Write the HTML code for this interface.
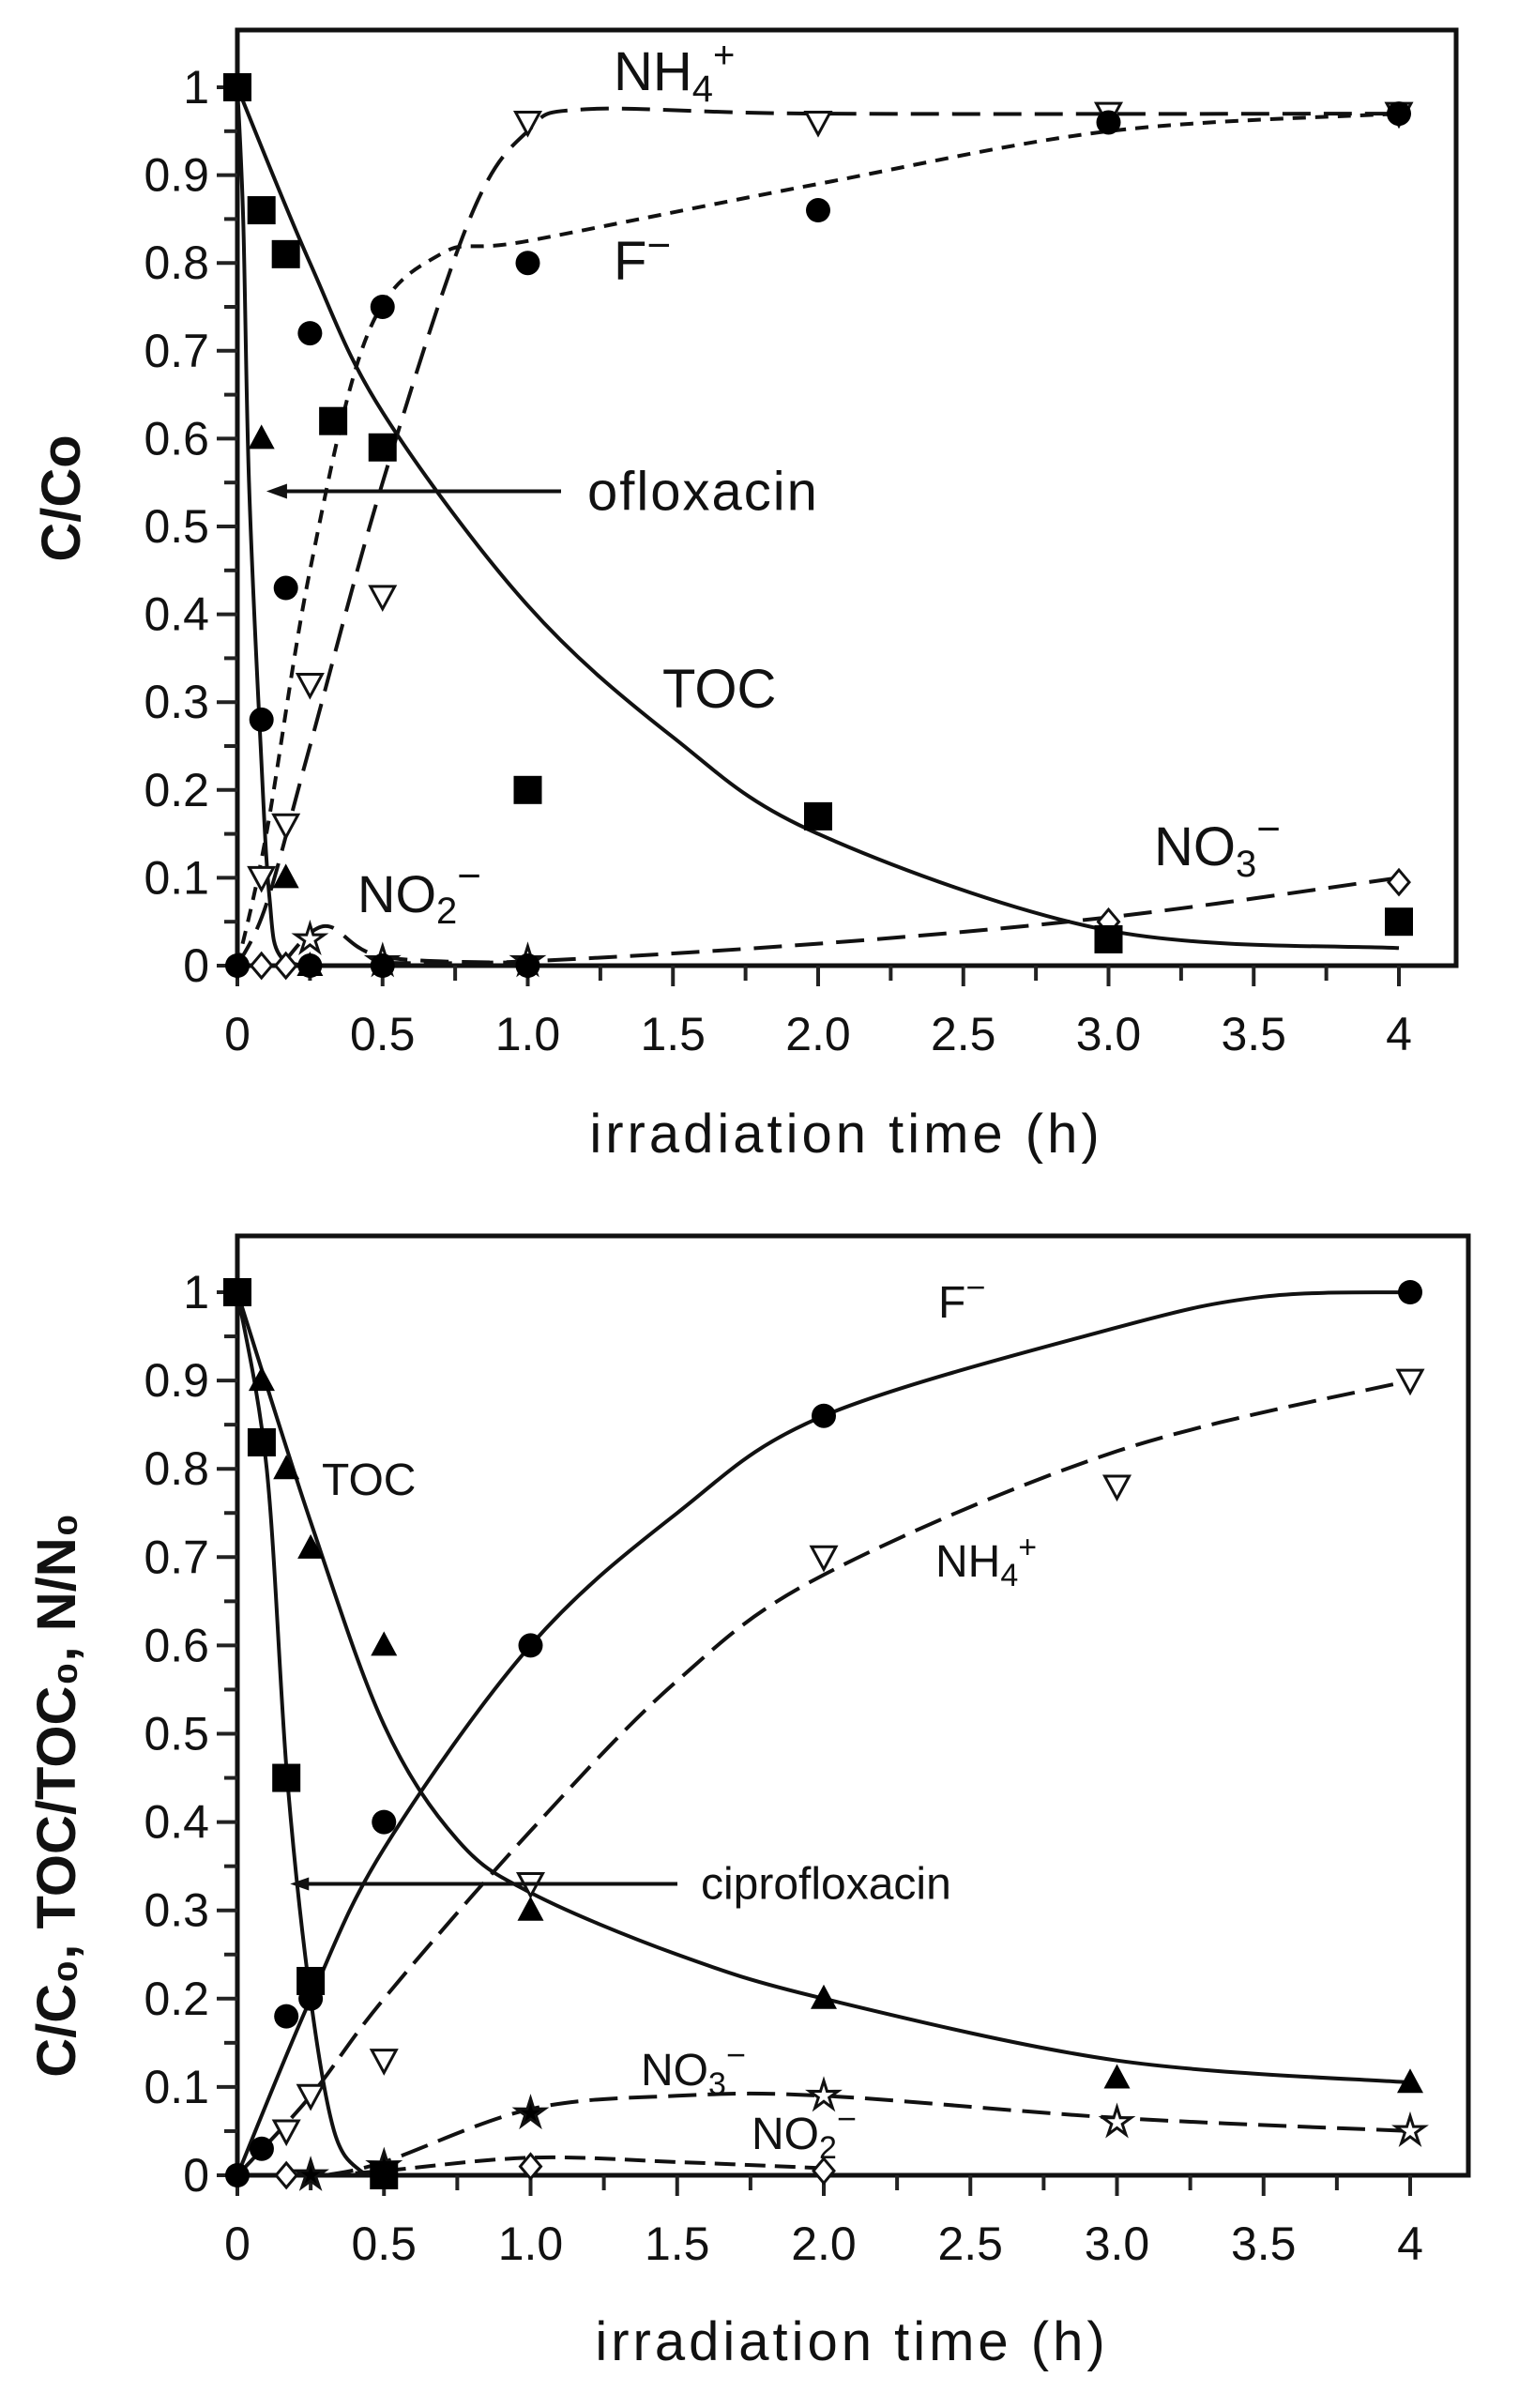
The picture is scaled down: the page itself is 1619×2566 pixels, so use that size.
<!DOCTYPE html>
<html><head><meta charset="utf-8"><style>
html,body{margin:0;padding:0;background:#fff;}
svg{display:block;font-family:"Liberation Sans",sans-serif;}
</style></head><body>
<svg id="s" width="1619" height="2566" viewBox="0 0 1619 2566" xmlns="http://www.w3.org/2000/svg"></svg>
<script>
const S=document.getElementById('s');let out='';
function cr(pts){let d='M'+pts[0][0].toFixed(1)+','+pts[0][1].toFixed(1);
for(let i=0;i<pts.length-1;i++){const p0=pts[i-1]||pts[i],p1=pts[i],p2=pts[i+1],p3=pts[i+2]||p2;
const c1=[p1[0]+(p2[0]-p0[0])/6,p1[1]+(p2[1]-p0[1])/6],c2=[p2[0]-(p3[0]-p1[0])/6,p2[1]-(p3[1]-p1[1])/6];
d+=' C'+c1.map(v=>v.toFixed(1))+' '+c2.map(v=>v.toFixed(1))+' '+p2.map(v=>v.toFixed(1));}return d;}
function chart(c){
 const X=x=>c.x0+x*c.u, Y=v=>c.y0-v*c.vu;
 out+=`<rect x="${c.L}" y="${c.T}" width="${c.R-c.L}" height="${c.y0-c.T}" fill="none" stroke="#111" stroke-width="5"/>`;
 for(let i=0;i<=16;i++){const x=X(i*0.25);out+=`<line x1="${x}" y1="${c.y0}" x2="${x}" y2="${c.y0+(i%2?16:22)}" stroke="#222" stroke-width="4"/>`;}
 const xl=['0','0.5','1.0','1.5','2.0','2.5','3.0','3.5','4'];
 xl.forEach((t,i)=>out+=`<text x="${X(i*0.5)}" y="${c.y0+90}" font-size="50" text-anchor="middle" fill="#111">${t}</text>`);
 for(let i=0;i<=20;i++){const y=Y(i*0.05);out+=`<line x1="${c.L}" y1="${y}" x2="${c.L-(i%2?14:22)}" y2="${y}" stroke="#222" stroke-width="4"/>`;}
 for(let i=0;i<=10;i++){const t=i==0?'0':i==10?'1':'0.'+i;out+=`<text x="${c.L-30}" y="${Y(i/10)+17}" font-size="50" text-anchor="end" fill="#111">${t}</text>`;}
 out+=`<text x="${X(2)+30}" y="${c.xt}" font-size="58" text-anchor="middle" letter-spacing="4" fill="#111">irradiation  time  (h)</text>`;
 out+=`<text transform="translate(${c.yl[0]},${c.yl[1]}) rotate(-90)" font-size="58" font-weight="bold" text-anchor="middle" fill="#111">${c.ylab}</text>`;
 c.curves.forEach(cv=>{out+=`<path d="${cr(cv.p.map(p=>[X(p[0]),Y(p[1])]))}" fill="none" stroke="#111" stroke-width="4" ${cv.d?`stroke-dasharray="${cv.d}"`:''}/>`;});
 c.series.forEach(s=>s.p.forEach(p=>mark(s.m,X(p[0]),Y(p[1]))));
 out+=c.extra(X,Y);
}
function mark(m,x,y){
 if(m=='sq')out+=`<rect x="${x-15}" y="${y-15}" width="30" height="30" fill="#000"/>`;
 if(m=='ci')out+=`<circle cx="${x}" cy="${y}" r="13" fill="#000"/>`;
 if(m=='tu')out+=`<path d="M${x},${y-15} L${x+14},${y+11} L${x-14},${y+11}Z" fill="#000"/>`;
 if(m=='td')out+=`<path d="M${x-13},${y-11} L${x+13},${y-11} L${x},${y+13}Z" fill="#fff" stroke="#111" stroke-width="3"/>`;
 if(m=='di')out+=`<path d="M${x},${y-13} L${x+11},${y} L${x},${y+13} L${x-11},${y}Z" fill="#fff" stroke="#111" stroke-width="3"/>`;
 if(m=='st'||m=='sf'){let d='';for(let i=0;i<10;i++){const r=i%2?6:16,a=-Math.PI/2+i*Math.PI/5;d+=(i?'L':'M')+(x+r*Math.cos(a)).toFixed(1)+','+(y+r*Math.sin(a)).toFixed(1);}
 out+=`<path d="${d}Z" fill="${m=='sf'?'#000':'#fff'}" stroke="#111" stroke-width="3"/>`;}
}
chart({L:253,R:1552,T:32,x0:253,u:309.5,y0:1029,vu:936,xt:1228,yl:[85,531],ylab:'C/Co',
 curves:[
  {p:[[0,1],[0.25,0.8],[0.5,0.63],[1,0.41],[1.5,0.26],[2,0.15],[3,0.04],[4,0.02]]},
  {p:[[0,1],[0.02,0.85],[0.04,0.55],[0.08,0.25],[0.11,0.08],[0.15,0.01],[0.3,0]]},
  {p:[[0,0],[0.1,0.15],[0.25,0.45],[0.45,0.72],[0.7,0.81],[1,0.825],[2,0.89],[3,0.95],[4,0.97]],d:'14 10'},
  {p:[[0,0],[0.1,0.07],[0.25,0.25],[0.5,0.55],[0.8,0.85],[1.0,0.95],[1.2,0.975],[2,0.97],[4,0.97]],d:'30 14'},
  {p:[[0.15,0],[0.3,0.045],[0.5,0.01],[1,0.003]],d:'30 14'},
  {p:[[0.5,0.003],[1,0.005],[2,0.025],[3,0.055],[4,0.1]],d:'30 14'}],
 series:[
  {m:'di',p:[[0,0],[0.083,0],[0.167,0],[1,0],[3,0.05],[4,0.095]]},
  {m:'st',p:[[0.25,0.03],[0.5,0.005],[1,0.005]]},
  {m:'td',p:[[0.083,0.1],[0.167,0.16],[0.25,0.32],[0.5,0.42],[1,0.96],[2,0.96],[3,0.97],[4,0.97]]},
  {m:'sq',p:[[0,1],[0.083,0.86],[0.167,0.81],[0.33,0.62],[0.5,0.59],[1,0.2],[2,0.17],[3,0.03],[4,0.05]]},
  {m:'tu',p:[[0.083,0.6],[0.167,0.1],[0.25,0]]},
  {m:'ci',p:[[0,0],[0.083,0.28],[0.167,0.43],[0.25,0.72],[0.5,0.75],[1,0.8],[2,0.86],[3,0.96],[4,0.97]]},
  {m:'ci',p:[[0.25,0],[0.5,0],[1,0]]}],
 extra:(X,Y)=>`<line x1="598" y1="${Y(0.54)}" x2="${X(0.14)}" y2="${Y(0.54)}" stroke="#111" stroke-width="4"/>
 <path d="M${X(0.1)},${Y(0.54)} l22,-8 v16Z" fill="#111"/>
 <text x="626" y="${Y(0.54)+20}" font-size="58" fill="#111" letter-spacing="2">ofloxacin</text>
 <text x="654" y="96" font-size="58" fill="#111">NH<tspan font-size="40" dy="12">4</tspan><tspan font-size="40" dy="-36">+</tspan></text>
 <text x="654" y="298" font-size="58" fill="#111">F<tspan font-size="44" dy="-22">−</tspan></text>
 <text x="706" y="754" font-size="58" fill="#111">TOC</text>
 <text x="1230" y="922" font-size="58" fill="#111">NO<tspan font-size="40" dy="12">3</tspan><tspan font-size="44" dy="-36">−</tspan></text>
 <text x="381" y="972" font-size="56" fill="#111">NO<tspan font-size="40" dy="12">2</tspan><tspan font-size="44" dy="-36">−</tspan></text>`});
chart({L:253,R:1565,T:1317,x0:253,u:312.5,y0:2318,vu:941,xt:2515,yl:[80,1913],ylab:'C/C₀,  TOC/TOC₀,  N/N₀',
 curves:[
  {p:[[0,1],[0.1,0.8],[0.17,0.45],[0.25,0.2],[0.33,0.05],[0.42,0.005],[0.5,0]]},
  {p:[[0,1],[0.25,0.74],[0.5,0.51],[0.75,0.38],[1,0.32],[1.5,0.25],[2,0.2],[3,0.13],[4,0.105]]},
  {p:[[0,0],[0.25,0.2],[0.5,0.37],[1,0.6],[1.5,0.75],[2,0.86],[3,0.96],[3.5,0.995],[4,1]]},
  {p:[[0,0],[0.25,0.09],[0.5,0.2],[1,0.39],[1.5,0.56],[2,0.68],[3,0.82],[4,0.9]],d:'30 12'},
  {p:[[0.3,0],[0.5,0.015],[1,0.075],[1.5,0.09],[2,0.09],[3,0.065],[4,0.05]],d:'30 12'},
  {p:[[0.3,0],[0.5,0.005],[1,0.02],[1.5,0.015],[2,0.008]],d:'22 10'}],
 series:[
  {m:'di',p:[[0.167,0],[0.5,0],[1,0.01],[2,0.005]]},
  {m:'td',p:[[0.167,0.05],[0.25,0.09],[0.5,0.13],[1,0.33],[2,0.7],[3,0.78],[4,0.9]]},
  {m:'st',p:[[2,0.09],[3,0.06],[4,0.05]]},{m:'sf',p:[[0.25,0],[0.5,0.01],[1,0.07]]},
  {m:'tu',p:[[0.083,0.9],[0.167,0.8],[0.25,0.71],[0.5,0.6],[1,0.3],[2,0.2],[3,0.11],[4,0.105]]},
  {m:'sq',p:[[0,1],[0.083,0.83],[0.167,0.45],[0.25,0.22],[0.5,0]]},
  {m:'ci',p:[[0,0],[0.083,0.03],[0.167,0.18],[0.25,0.2],[0.5,0.4],[1,0.6],[2,0.86],[4,1.0]]}],
 extra:(X,Y)=>`<line x1="722" y1="${Y(0.33)}" x2="${X(0.22)}" y2="${Y(0.33)}" stroke="#111" stroke-width="4"/>
 <path d="M${X(0.18)},${Y(0.33)} l20,-7 v14Z" fill="#111"/>
 <text x="747" y="${Y(0.33)+16}" font-size="48" fill="#111">ciprofloxacin</text>
 <text x="1000" y="1404" font-size="48" fill="#111">F<tspan font-size="36" dy="-20">−</tspan></text>
 <text x="343" y="1593" font-size="48" fill="#111">TOC</text>
 <text x="997" y="1680" font-size="48" fill="#111">NH<tspan font-size="34" dy="10">4</tspan><tspan font-size="34" dy="-30">+</tspan></text>
 <text x="683" y="2222" font-size="48" fill="#111">NO<tspan font-size="34" dy="10">3</tspan><tspan font-size="36" dy="-30">−</tspan></text>
 <text x="801" y="2290" font-size="48" fill="#111">NO<tspan font-size="34" dy="10">2</tspan><tspan font-size="36" dy="-30">−</tspan></text>`});
S.innerHTML=out;
</script>
</body></html>
